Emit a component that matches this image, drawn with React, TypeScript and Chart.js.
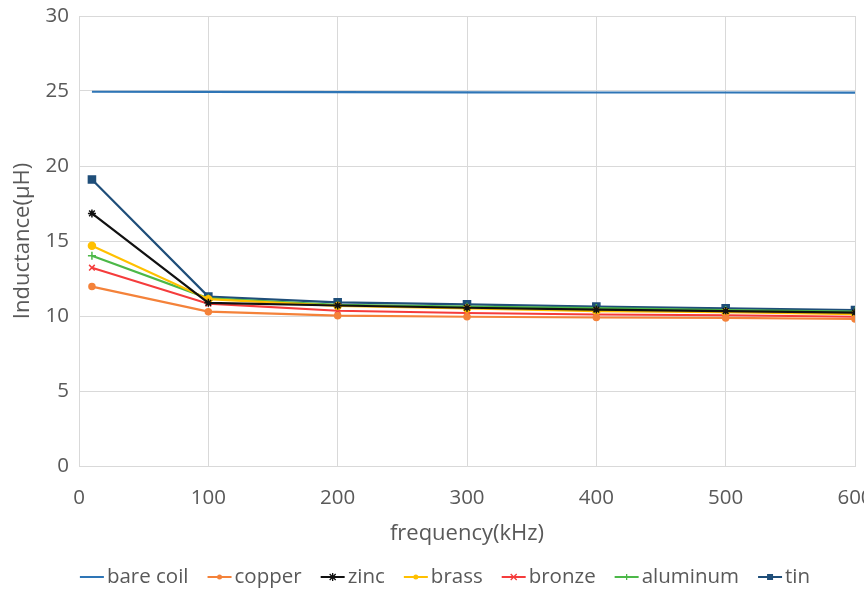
import React, { useEffect, useRef } from "react";
import { Chart, registerables } from "chart.js";
Chart.register(...registerables);

const frequencies = [10, 100, 200, 300, 400, 500, 600];
const seriesNames = ["bare coil", "copper", "zinc", "brass", "bronze", "aluminum", "tin"];
const bareCoil = [24.95, 24.94, 24.93, 24.91, 24.9, 24.9, 24.89];
const copper = [11.96, 10.29, 10.02, 9.95, 9.9, 9.87, 9.8];
const zinc = [16.84, 10.88, 10.7, 10.55, 10.43, 10.33, 10.23];
const brass = [14.69, 11.12, 10.67, 10.5, 10.33, 10.25, 10.13];
const bronze = [13.22, 10.82, 10.35, 10.2, 10.1, 10.05, 9.95];
const aluminum = [14.02, 11.18, 10.75, 10.62, 10.53, 10.4, 10.3];
const tin = [19.1, 11.29, 10.91, 10.78, 10.63, 10.51, 10.4];
const yTicks = [0, 5, 10, 15, 20, 25, 30];
const xTicks = [0, 100, 200, 300, 400, 500, 600];

const seriesValues = [bareCoil, copper, zinc, brass, bronze, aluminum, tin];
const colors = ["#2E75B6", "#F4823A", "#111111", "#FFC000", "#F53C3C", "#4CB848", "#1F4E79"];
const markers: any[] = [false, "circle", "star", "circle", "crossRot", "cross", "rect"];
const radii = [0, 3, 4, 3.5, 4, 4, 5];

const FONT = "'Open Sans', 'DejaVu Sans', sans-serif";
const TEXT = "#595959";
const LEGEND_FONT_SIZE = 20.5;

function drawLegendMarker(ctx: CanvasRenderingContext2D, marker: any, cx: number, cy: number) {
  const r = 3;
  ctx.lineWidth = 1.3;
  if (marker === "circle") {
    ctx.beginPath(); ctx.arc(cx, cy, 2.5, 0, Math.PI * 2); ctx.fill();
  } else if (marker === "rect") {
    ctx.fillRect(cx - 3, cy - 3, 6, 6);
  } else if (marker === "cross") {
    ctx.beginPath(); ctx.moveTo(cx, cy - r); ctx.lineTo(cx, cy + r); ctx.stroke();
  } else if (marker === "crossRot" || marker === "star") {
    ctx.beginPath();
    ctx.moveTo(cx - r, cy - r); ctx.lineTo(cx + r, cy + r);
    ctx.moveTo(cx + r, cy - r); ctx.lineTo(cx - r, cy + r);
    if (marker === "star") { ctx.moveTo(cx, cy - r - 1); ctx.lineTo(cx, cy + r + 1); }
    ctx.stroke();
  }
}

const legendPlugin = {
  id: "excelLegend",
  afterDraw(chart: any) {
    const ctx: CanvasRenderingContext2D = chart.ctx;
    ctx.save();
    ctx.font = `${LEGEND_FONT_SIZE}px ${FONT}`;
    ctx.textBaseline = "middle";
    const lineLen = 24, gapText = 3, gapItem = 19;
    const widths = chart.data.datasets.map((d: any) => lineLen + gapText + ctx.measureText(d.label).width);
    const total = widths.reduce((a: number, b: number) => a + b, 0) + gapItem * (widths.length - 1);
    let x = chart.width / 2 + 13 - total / 2;
    const y = 577;
    chart.data.datasets.forEach((d: any, i: number) => {
      ctx.strokeStyle = colors[i];
      ctx.fillStyle = colors[i];
      ctx.lineWidth = 2;
      ctx.beginPath(); ctx.moveTo(x, y); ctx.lineTo(x + lineLen, y); ctx.stroke();
      drawLegendMarker(ctx, markers[i], x + lineLen / 2, y);
      ctx.fillStyle = TEXT;
      ctx.fillText(d.label, x + lineLen + gapText, y);
      x += widths[i] + gapItem;
    });
    ctx.restore();
  },
};

export default function App() {
  const ref = useRef<HTMLCanvasElement>(null);
  useEffect(() => {
    document.body.style.margin = "0";
    const datasets = seriesNames.map((name, i) => ({
      label: name,
      data: frequencies.map((f, j) => ({ x: f, y: seriesValues[i][j] })),
      borderColor: colors[i],
      backgroundColor: colors[i],
      borderWidth: 2.2,
      pointStyle: markers[i],
      pointRadius: radii[i],
      pointBorderWidth: 1.5,
      pointBorderColor: colors[i],
      pointBackgroundColor: colors[i],
      tension: 0,
    }));
    const chart = new Chart(ref.current!, {
      type: "line",
      data: { datasets },
      plugins: [legendPlugin],
      options: {
        responsive: false,
        animation: false,
        layout: { padding: { left: 0, right: 9, top: 16, bottom: 25 } },
        plugins: {
          tooltip: { enabled: false },
          legend: { display: false },
        },
        scales: {
          x: {
            type: "linear",
            min: 0,
            max: 600,
            afterBuildTicks: (s: any) => { s.ticks = xTicks.map((v) => ({ value: v })); },
            afterFit: (s: any) => { s.paddingRight = 0; s.paddingLeft = 0; s.height = 98; },
            ticks: { color: TEXT, font: { family: FONT, size: 20.5 }, padding: 20, maxRotation: 0 },
            grid: { color: "#D9D9D9", drawTicks: false, lineWidth: 1 },
            border: { color: "#D9D9D9" },
            title: {
              display: true,
              text: "frequency(kHz)",
              color: TEXT,
              font: { family: FONT, size: 22 },
              padding: { top: 0, bottom: 17 },
            },
          },
          y: {
            min: 0,
            max: 30,
            afterBuildTicks: (s: any) => { s.ticks = yTicks.map((v) => ({ value: v })); },
            afterFit: (s: any) => { s.width = 79; s.paddingTop = 0; s.paddingBottom = 0; },
            ticks: { color: TEXT, font: { family: FONT, size: 20.5 }, padding: 10 },
            grid: { color: "#D9D9D9", drawTicks: false, lineWidth: 1 },
            border: { color: "#D9D9D9" },
            title: {
              display: true,
              text: "Inductance(μH)",
              color: TEXT,
              font: { family: FONT, size: 22 },
              padding: { top: 10, bottom: 0 },
            },
          },
        },
      },
    } as any);
    return () => chart.destroy();
  }, []);
  return (
    <div style={{ position: "absolute", left: 0, top: 0, width: 864, height: 589 }}>
      <canvas ref={ref} width={864} height={589} style={{ width: 864, height: 589 }} />
    </div>
  );
}
